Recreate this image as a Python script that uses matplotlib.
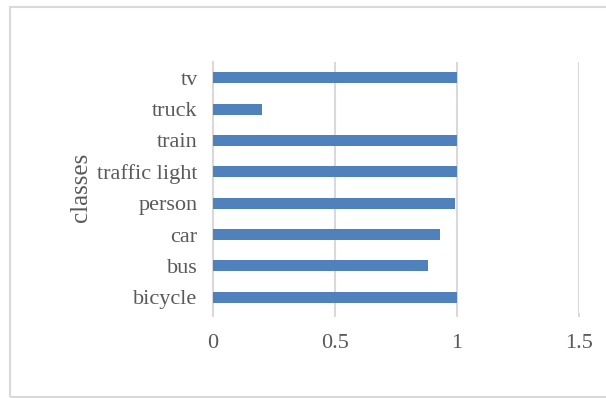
import matplotlib
matplotlib.use('agg')
import matplotlib.pyplot as plt
from matplotlib.patches import Rectangle

classes = ['bicycle', 'bus', 'car', 'person', 'traffic light', 'train', 'truck', 'tv']
scores = [1.0, 0.88, 0.93, 0.99, 1.0, 1.0, 0.2, 1.0]
x_ticks = [0, 0.5, 1, 1.5]
x_tick_labels = ['0', '0.5', '1', '1.5']

plt.rcParams['font.family'] = ['Liberation Serif', 'DejaVu Serif']

W, H = 606, 398
fig = plt.figure(figsize=(W / 100, H / 100), dpi=100)

# chart area border (right edge falls outside the picture)
fig.add_artist(Rectangle((9.5 / W, 1 - 397 / H), 1.2, (397 - 7) / H,
                         transform=fig.transFigure, fill=False,
                         edgecolor='#d9d9d9', linewidth=1.5))

ax = fig.add_axes([213 / W, 1 - 313 / H, (579 - 213) / W, (313 - 62) / H])
ax.barh(range(len(classes)), scores, height=0.35, color='#4f81bd', zorder=3)

ax.set_xlim(0, 1.5)
ax.set_ylim(-0.5, len(classes) - 0.5)
ax.set_xticks(x_ticks)
ax.set_xticklabels(x_tick_labels)
ax.set_yticks(range(len(classes)))
ax.set_yticklabels(classes)
ax.grid(axis='x', color='#d9d9d9', linewidth=1.5, zorder=0)

for s in ['top', 'right', 'bottom']:
    ax.spines[s].set_visible(False)
ax.spines['left'].set_color('#d9d9d9')
ax.spines['left'].set_linewidth(1.5)

ax.tick_params(axis='x', length=3, color='#d9d9d9', width=1.5,
               labelsize=16, labelcolor='#595959', pad=12)
ax.tick_params(axis='y', length=0, labelsize=16, labelcolor='#595959', pad=11)
ax.set_ylabel('classes', fontsize=18, color='#595959', labelpad=4)

fig.savefig('out.png', dpi=100)
